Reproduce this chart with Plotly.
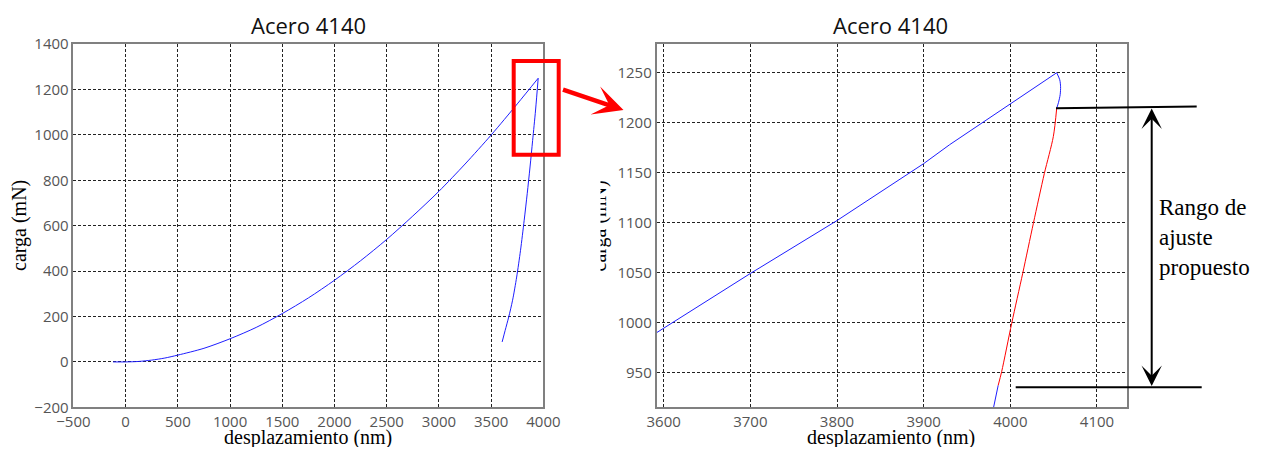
import plotly.graph_objects as go

# ---------------- data ----------------
title_text = "Acero 4140"
x_label = "desplazamiento (nm)"
y_label = "carga (mN)"
fit_label = "Rango de<br>ajuste<br>propuesto"

# left panel: full load / unload curve
left_load_x = [-120, 0, 125, 250, 375, 500, 750, 1000, 1250, 1500, 1750, 2000, 2250, 2500, 2750, 3000, 3250, 3500, 3750, 3950]
left_load_y = [0, 0, 2, 8, 17, 30, 60, 102, 152, 213, 282, 360, 446, 540, 643, 752, 872, 1000, 1137, 1250]
left_unload_x = [3950, 3925, 3897, 3872, 3845, 3816, 3781, 3744, 3705, 3668, 3634, 3605]
left_unload_y = [1250, 1110, 976, 859, 741, 624, 492, 374, 272, 198, 139, 88]

# right panel: zoom around the peak
right_load_x = [3585, 3700, 3800, 3900, 3930, 4000, 4053.5]
right_load_y = [986, 1049, 1102, 1159, 1178, 1219, 1250]
right_unload_top_x = [4053.5, 4057, 4058, 4057.5, 4055.5, 4053.5]
right_unload_top_y = [1250, 1243, 1236, 1228, 1220, 1214.4]
fit_x = [4053.5, 4049.6, 4039.3, 4026.6, 4014.3, 4001.6, 3990, 3986]
fit_y = [1214.4, 1186, 1149.3, 1099.3, 1049.2, 999.2, 950.7, 937]
right_unload_bottom_x = [3986, 3980.6, 3979.5]
right_unload_bottom_y = [937, 915, 910]

left_x_ticks = [-500, 0, 500, 1000, 1500, 2000, 2500, 3000, 3500, 4000]
left_y_ticks = [-200, 0, 200, 400, 600, 800, 1000, 1200, 1400]
right_x_ticks = [3600, 3700, 3800, 3900, 4000, 4100]
right_y_ticks = [950, 1000, 1050, 1100, 1150, 1200, 1250]

# ---------------- figure ----------------
# page has an 8px body margin: the figure fills the rest of the 1266x455 window
OFF = 8
W, H = 1266 - 2 * OFF, 455 - 2 * OFF
def px(x):
    return (x - OFF) / W
def py(y):
    return 1 - (y - OFF) / H

BLUE = "rgb(30,30,255)"
RED = "rgb(255,0,0)"

fig = go.Figure()
def add_line(xs, ys, color, xa, ya, spline=False):
    fig.add_trace(go.Scatter(x=xs, y=ys, mode="lines",
                             line=dict(color=color, width=1,
                                       shape="spline" if spline else "linear",
                                       smoothing=0.8),
                             xaxis=xa, yaxis=ya, showlegend=False, hoverinfo="skip"))

add_line(left_load_x, left_load_y, BLUE, "x", "y", spline=True)
add_line(left_unload_x, left_unload_y, BLUE, "x", "y", spline=True)
add_line(right_load_x, right_load_y, BLUE, "x2", "y2")
add_line(right_unload_top_x, right_unload_top_y, BLUE, "x2", "y2", spline=True)
add_line(right_unload_bottom_x, right_unload_bottom_y, BLUE, "x2", "y2")
add_line(fit_x, fit_y, RED, "x2", "y2", spline=True)

tick_font = dict(family="Open Sans", size=15, color="#555555")
common = dict(showgrid=True, gridcolor="#222222", gridwidth=1, griddash="3px,2px",
              showline=True, linecolor="#808080", linewidth=1.5, mirror=True,
              zeroline=False, ticks="", tickfont=tick_font, tickmode="array",
              automargin=False)

ydom = [py(407.3), py(44.2)]
fig.update_layout(
    template="none",
    width=W, height=H,
    margin=dict(l=0, r=0, t=0, b=0, pad=0, autoexpand=False),
    paper_bgcolor="white", plot_bgcolor="white",
    xaxis=dict(domain=[px(73.4), px(543.4)], range=[-500, 4000], tickvals=left_x_ticks,
               anchor="y", **common),
    yaxis=dict(domain=ydom, range=[-200, 1400], tickvals=left_y_ticks, anchor="x", **common),
    xaxis2=dict(domain=[px(656.5), px(1126.8)], range=[3591.7, 4134.4], tickvals=right_x_ticks,
                anchor="y2", **common),
    yaxis2=dict(domain=ydom, range=[915, 1278.6], tickvals=right_y_ticks, anchor="x2", **common),
)

serif = dict(family="Liberation Serif", size=20, color="black")
title_font = dict(family="Open Sans", size=22, color="#111111")
ann = []
ann.append(dict(text=title_text, x=px(308), y=1, xref="paper", yref="paper",
                xanchor="center", yanchor="top", showarrow=False, font=title_font))
ann.append(dict(text=title_text, x=px(890), y=1, xref="paper", yref="paper",
                xanchor="center", yanchor="top", showarrow=False, font=title_font))
ann.append(dict(text=x_label, x=px(308), y=py(437.5), xref="paper", yref="paper",
                xanchor="center", yanchor="middle", showarrow=False, font=serif))
ann.append(dict(text=x_label, x=px(891), y=py(437.5), xref="paper", yref="paper",
                xanchor="center", yanchor="middle", showarrow=False, font=serif))
ann.append(dict(text=y_label, x=px(20), y=py(226), xref="paper", yref="paper", textangle=-90,
                xanchor="center", yanchor="middle", showarrow=False, font=serif))
# right panel y title, partly hidden (cropped in the original figure)
ann.append(dict(text=y_label, x=px(599.5), y=py(226), xref="paper", yref="paper", textangle=-90,
                xanchor="center", yanchor="middle", showarrow=False, font=serif))
ann.append(dict(text=" ", x=px(588), y=py(226), xref="paper", yref="paper",
                xanchor="center", yanchor="middle", showarrow=False, width=24, height=130,
                bgcolor="white", borderpad=0, font=dict(size=4)))
# fit range label
ann.append(dict(text=fit_label, x=px(1157), y=py(237), xref="paper", yref="paper",
                xanchor="left", yanchor="middle", align="left", showarrow=False,
                font=dict(family="Liberation Serif", size=23, color="black")))
# double-headed arrow
ann.append(dict(text="", x=px(1151.7), y=py(108.5), xref="paper", yref="paper",
                ax=0, ay=279, axref="pixel", ayref="pixel", showarrow=True,
                arrowside="end+start", arrowhead=3, startarrowhead=3,
                arrowsize=1.7, startarrowsize=1.7, arrowwidth=2, arrowcolor="black",
                standoff=0, startstandoff=0))
# red arrow from the zoom box
ann.append(dict(text="", x=px(623.5), y=py(110), xref="paper", yref="paper",
                ax=-62, ay=-21, axref="pixel", ayref="pixel", showarrow=True,
                arrowhead=3, arrowsize=1.1, arrowwidth=4.5, arrowcolor=RED,
                standoff=0, startstandoff=0))
fig.update_layout(annotations=ann)

shapes = []
# zoom box on the left panel
shapes.append(dict(type="rect", xref="paper", yref="paper",
                   x0=px(513.7), x1=px(558.7), y0=py(154.7), y1=py(61),
                   line=dict(color=RED, width=4), fillcolor="rgba(0,0,0,0)", layer="above"))
# fit range bars
shapes.append(dict(type="line", xref="paper", yref="paper",
                   x0=px(1056), x1=px(1196.7), y0=py(108.3), y1=py(106.5),
                   line=dict(color="black", width=2), layer="above"))
shapes.append(dict(type="line", xref="paper", yref="paper",
                   x0=px(1015.7), x1=px(1201.7), y0=py(387.3), y1=py(387.3),
                   line=dict(color="black", width=2), layer="above"))
fig.update_layout(shapes=shapes)

fig.write_html("out.html")
